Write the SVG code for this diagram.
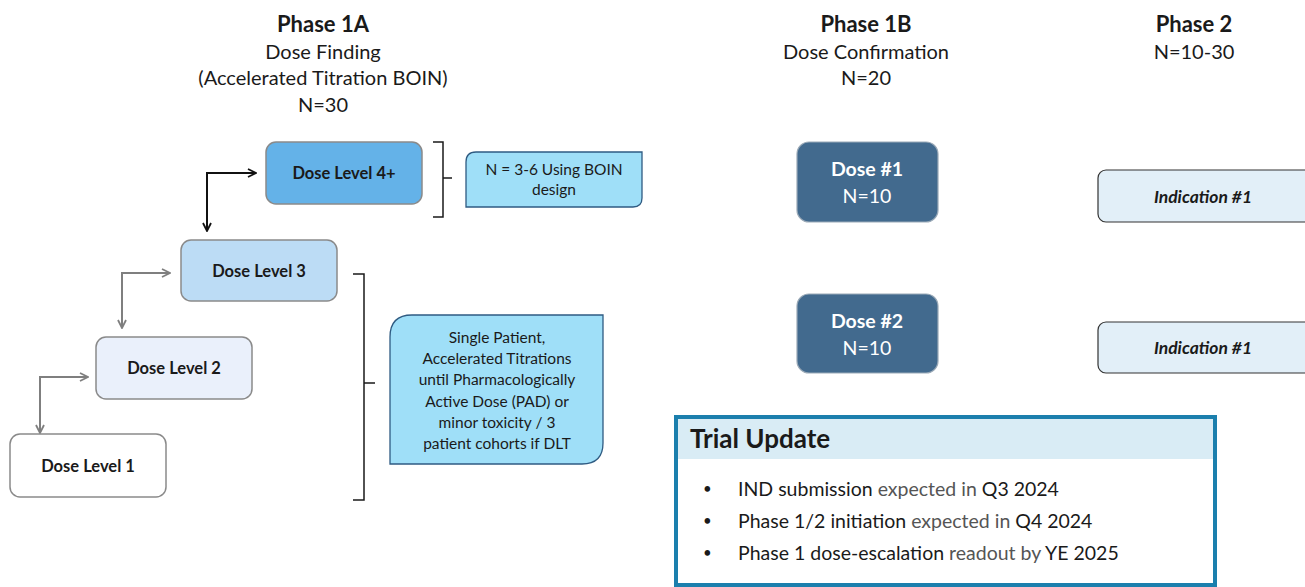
<svg xmlns="http://www.w3.org/2000/svg" width="1305" height="587" viewBox="0 0 1305 587">
<defs>
<style>
text{font-family:Lato,"Open Sans","Liberation Sans",sans-serif;fill:#1a1a1a}
.h{font-size:22px;font-weight:bold;text-anchor:middle}
.s{font-size:20px;text-anchor:middle}
.dl{font-size:16.5px;font-weight:bold;text-anchor:middle}
.dl-box{stroke:#8a8a8a;stroke-width:1.5}
.note{fill:#9fdff8;stroke:#2f5b82;stroke-width:1.3}
.nt{font-size:15.5px;text-anchor:middle}
.dose{fill:#426a8e;stroke:#9aa9b7;stroke-width:1.2}
.dt{font-size:19.5px;fill:#fff;text-anchor:middle}
.ind{fill:#e2eff8;stroke:#333;stroke-width:1.2}
.it{font-size:17.5px;font-weight:bold;font-style:italic;text-anchor:middle}
.br{fill:none;stroke:#1a1a1a;stroke-width:1.5}
.bl{font-size:19.5px}
.bu{font-size:15px}
.g{fill:#555}
</style>
<marker id="ab" viewBox="0 0 10 10" refX="9" refY="5" markerWidth="10" markerHeight="10" markerUnits="userSpaceOnUse" orient="auto-start-reverse"><path d="M1,1 L9,5 L1,9" fill="none" stroke="#111" stroke-width="1.8"/></marker>
<marker id="ag" viewBox="0 0 10 10" refX="9" refY="5" markerWidth="10" markerHeight="10" markerUnits="userSpaceOnUse" orient="auto-start-reverse"><path d="M1,1 L9,5 L1,9" fill="none" stroke="#7f7f7f" stroke-width="1.8"/></marker>
</defs>
<rect width="1305" height="587" fill="#fff"/>

<g id="headers">
<text class="h" x="323" y="32">Phase 1A</text>
<text class="s" x="323" y="59">Dose Finding</text>
<text class="s" x="323" y="85">(Accelerated Titration BOIN)</text>
<text class="s" x="323" y="112">N=30</text>
<text class="h" x="866" y="32">Phase 1B</text>
<text class="s" x="866" y="59">Dose Confirmation</text>
<text class="s" x="866" y="85">N=20</text>
<text class="h" x="1194" y="32">Phase 2</text>
<text class="s" x="1194" y="59">N=10-30</text>
</g>

<g id="connectors">
<path d="M207,231 L207,173 L256,173" fill="none" stroke="#111" stroke-width="2" marker-start="url(#ab)" marker-end="url(#ab)"/>
<path d="M122,328 L122,273 L170,273" fill="none" stroke="#7f7f7f" stroke-width="2" marker-start="url(#ag)" marker-end="url(#ag)"/>
<path d="M40,433 L40,377 L88,377" fill="none" stroke="#7f7f7f" stroke-width="2" marker-start="url(#ag)" marker-end="url(#ag)"/>
<path class="br" d="M433,142 L443,142 L443,217 L433,217 M443,178 L452,178"/>
<path class="br" d="M353,274 L364,274 L364,500 L353,500 M364,383 L375,383"/>
</g>

<g id="dl4">
<rect class="dl-box" x="266" y="142" width="156" height="62" rx="10" fill="#64b2e8"/>
<text class="dl" x="344" y="179">Dose Level 4+</text>
</g>
<g id="dl3">
<rect class="dl-box" x="181" y="240" width="156" height="61" rx="10" fill="#bcdcf5"/>
<text class="dl" x="259" y="277">Dose Level 3</text>
</g>
<g id="dl2">
<rect class="dl-box" x="96" y="337" width="156" height="62" rx="10" fill="#eaf0fb"/>
<text class="dl" x="174" y="374">Dose Level 2</text>
</g>
<g id="dl1">
<rect class="dl-box" x="10" y="434" width="156" height="63" rx="10" fill="#fff"/>
<text class="dl" x="88" y="472">Dose Level 1</text>
</g>

<g id="note1">
<path class="note" d="M476,152 L642,152 L642,198 Q642,207 633,207 L466,207 L466,162 Q466,152 476,152 Z"/>
<text class="nt" x="554" y="175">N = 3-6 Using BOIN</text>
<text class="nt" x="554" y="195">design</text>
</g>
<g id="note2">
<path class="note" d="M412,315 L603,315 L603,443 Q603,464 582,464 L390,464 L390,337 Q390,315 412,315 Z"/>
<text class="nt" x="497" y="343">Single Patient,</text>
<text class="nt" x="497" y="364">Accelerated Titrations</text>
<text class="nt" x="497" y="385">until Pharmacologically</text>
<text class="nt" x="497" y="407">Active Dose (PAD) or</text>
<text class="nt" x="497" y="428">minor toxicity / 3</text>
<text class="nt" x="497" y="449">patient cohorts if DLT</text>
</g>

<g id="dose1">
<rect class="dose" x="797" y="142" width="141" height="80" rx="12"/>
<text class="dt" x="867" y="176" font-weight="bold">Dose #1</text>
<text class="dt" x="867" y="203">N=10</text>
</g>
<g id="dose2">
<rect class="dose" x="797" y="294" width="141" height="79" rx="12"/>
<text class="dt" x="867" y="328" font-weight="bold">Dose #2</text>
<text class="dt" x="867" y="355">N=10</text>
</g>

<g id="ind1">
<rect class="ind" x="1098" y="170" width="215" height="52" rx="8"/>
<text class="it" x="1203" y="203">Indication #1</text>
</g>
<g id="ind2">
<rect class="ind" x="1098" y="322" width="215" height="51" rx="8"/>
<text class="it" x="1203" y="354">Indication #1</text>
</g>

<g id="trial">
<rect x="676" y="417" width="539" height="42" fill="#d9ecf5"/>
<rect x="676" y="417" width="539" height="168" fill="none" stroke="#1b7fad" stroke-width="4"/>
<text x="690" y="448" font-size="26" font-weight="bold">Trial Update</text>
<text class="bu" x="703" y="494">•</text>
<text class="bl" x="738" y="496">IND submission<tspan class="g"> expected in </tspan>Q3 2024</text>
<text class="bu" x="703" y="526">•</text>
<text class="bl" x="738" y="528">Phase 1/2 initiation<tspan class="g"> expected in </tspan>Q4 2024</text>
<text class="bu" x="703" y="558">•</text>
<text class="bl" x="738" y="560">Phase 1 dose-escalation<tspan class="g"> readout by </tspan>YE 2025</text>
</g>
</svg>
